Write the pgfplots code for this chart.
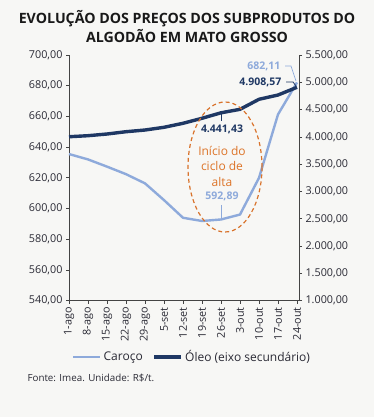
\documentclass[border=0pt]{standalone}
\usepackage{fontspec}
\setmainfont{Open Sans}
\usepackage{pgfplots}
\pgfplotsset{compat=1.18}
\definecolor{bg}{HTML}{F7F7F5}
\definecolor{oleo}{HTML}{1F3864}
\definecolor{caroco}{HTML}{8EAADB}
\definecolor{laranja}{HTML}{D9732C}
\definecolor{txt}{HTML}{2A2A35}
\definecolor{axl}{HTML}{444444}
\pgfplotsset{
  common/.style={
    at={(69pt,116.3pt)}, anchor=south west, scale only axis,
    width=230pt, height=245.7pt, xmin=0, xmax=12.105,
    clip=false, tick align=outside, major tick length=3pt,
    every tick/.style={axl, line width=0.7pt},
    axis line style={axl, line width=0.7pt},
    tick label style={font=\fontsize{10.8}{12}\selectfont, text=txt},
    /pgf/number format/fixed, /pgf/number format/fixed zerofill,
    /pgf/number format/precision=2, /pgf/number format/use comma,
    /pgf/number format/1000 sep={.}, /pgf/number format/assume math mode=true,
  }
}
\begin{document}
\begin{tikzpicture}
\fill[bg] (0pt,0pt) rectangle (374pt,417pt);
\begin{scope}[x=1pt,y=1pt]
\node[font=\bfseries\fontsize{14.2}{19}\selectfont, align=center, text=black!90] at (187,390.5) {EVOLUÇÃO DOS PREÇOS DOS SUBPRODUTOS DO\\ALGODÃO EM MATO GROSSO};
\end{scope}
\begin{axis}[common,
  ymin=540, ymax=700, ytick={540,560,...,700},
  axis y line*=left, axis x line*=bottom,
  xtick={0,...,12},
  xticklabels={1-ago,8-ago,15-ago,22-ago,29-ago,5-set,12-set,19-set,26-set,3-out,10-out,17-out,24-out},
  xticklabel style={rotate=90, anchor=east},
]
\addplot[caroco, line width=2.4pt, line join=round] coordinates {
(0,635.5) (1,632.0) (2,627.3) (3,622.4) (4,616.4) (5,605.5) (6,594.0) (7,591.9) (8,592.89) (9,596.1) (10,620.0) (11,661.3) (12,682.11)};
\end{axis}
\begin{axis}[common,
  ymin=1000, ymax=5500, ytick={1000,1500,...,5500},
  axis y line*=right, axis x line=none,
  legend style={at={(0.535,-0.229)}, anchor=center, draw=none, fill=none, legend columns=2,
    font=\fontsize{12}{14}\selectfont, text=txt, inner sep=1pt,
    /tikz/every even column/.append style={column sep=8pt}},
  legend image code/.code={\draw[#1] (0pt,0pt) -- (27pt,0pt);},
]
\addlegendimage{caroco, line width=2.6pt}
\addlegendentry{Caroço}
\addplot[oleo, line width=3.4pt, line join=round] coordinates {
(0,4003) (1,4022) (2,4053) (3,4095) (4,4126) (5,4176) (6,4249) (7,4341) (8,4441.43) (9,4505) (10,4689) (11,4767) (12,4908.57)};
\addlegendentry{Óleo (eixo secundário)}
\end{axis}
\begin{scope}[x=1pt,y=1pt]
\draw[laranja, line width=1.2pt, dash pattern=on 4pt off 3pt] (225,250) ellipse [x radius=37, y radius=65];
\node[text=laranja!90!orange, align=center, font=\fontsize{12}{15.5}\selectfont] at (222,251) {Início do\\ciclo de\\alta};
\draw[oleo, line width=0.8pt] (221,304) -- (221,296);
\node[text=oleo, font=\bfseries\fontsize{10.5}{12}\selectfont] at (222,288) {4.441,43};
\draw[caroco, line width=0.8pt] (221,212) -- (221,198);
\node[text=caroco, font=\bfseries\fontsize{10.5}{12}\selectfont] at (222,221) {592,89};
\draw[caroco, line width=0.7pt] (285,351) -- (291,351) -- (296,336);
\node[text=caroco, font=\bfseries\fontsize{10.5}{12}\selectfont, anchor=east] at (284,351) {682,11};
\draw[oleo, line width=0.8pt] (286,335) -- (293,335) -- (296,331);
\node[text=oleo, font=\bfseries\fontsize{10.5}{12}\selectfont, anchor=east] at (285,335) {4.908,57};
\node[anchor=west, text=txt, font=\fontsize{9.8}{11}\selectfont] at (24,39) {Fonte: Imea. Unidade: R\$/t.};
\end{scope}
\pgfresetboundingbox
\useasboundingbox (0pt,0pt) rectangle (374pt,417pt);
\end{tikzpicture}
\end{document}
